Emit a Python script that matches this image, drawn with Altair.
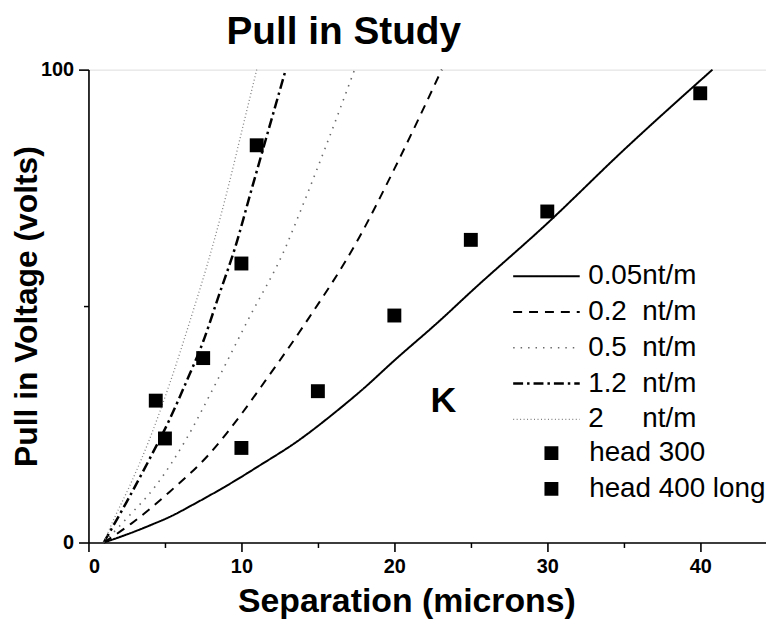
import altair as alt
import pandas as pd

FONT = "Liberation Sans"

# ---- curve series ----
line_names = [
    "0.05nt/m",
    "0.2\u00a0\u00a0nt/m",
    "0.5\u00a0\u00a0nt/m",
    "1.2\u00a0\u00a0nt/m",
    "2\u00a0\u00a0\u00a0\u00a0\u00a0nt/m",
]

x_005 = [1, 2, 3, 4, 5.3, 7, 9.5, 11.1, 13.7, 16, 18, 20, 23, 25, 30, 35, 40.8]
y_005 = [0, 1.1, 2.3, 3.6, 5.4, 8.3, 12.9, 16.1, 21.5, 27.2, 32.6, 38.5, 47, 53, 67.5, 83, 100]

x_02 = [1, 2.8, 5.3, 7.9, 10.1, 11.3, 14, 17.7, 20, 23.1]
y_02 = [0, 4, 10.7, 18.7, 27.6, 33, 45.5, 64.5, 79, 100]

x_05 = [1, 2.5, 4.4, 6.4, 8.3, 10.5, 12.9, 13.7, 15.5, 17.4]
y_05 = [0, 5.1, 12, 21.9, 33.5, 47.5, 62.5, 68.8, 83.6, 100]

x_12 = [1, 2.5, 4.0, 5.3, 6.4, 7.5, 8.5, 9.6, 10.65, 11.75, 12.9]
y_12 = [0, 8.6, 17.7, 26, 34, 42.5, 52, 62.5, 74.5, 87, 100]

x_2 = [1, 1.6, 2.7, 4.0, 5.3, 6.7, 8.1, 9.2, 10.1, 11.0]
y_2 = [0, 4.5, 12, 21.9, 33.5, 47.5, 62.5, 76, 88, 100]

# ---- measured points ----
point_names = ["head 300", "head 400 long"]
head300_x = [5, 10, 15, 20, 25, 30, 40]
head300_y = [22, 20, 32, 48, 64, 70, 95]
head400_x = [4.4, 7.5, 10, 11]
head400_y = [30, 39, 59, 84]

annot_x = [23.2]
annot_y = [30]
annot_text = ["K"]

# ---- styles ----
line_colors = ["#000000", "#000000", "#6a6a6a", "#000000", "#808080"]
line_dashes = [[1, 0], [9, 7], [1.5, 6], [10, 4, 2.5, 4], [1, 2.5]]
line_widths = [2, 2, 1.6, 2.5, 1.3]

rows = []
for name, xs, ys in zip(line_names, [x_005, x_02, x_05, x_12, x_2],
                        [y_005, y_02, y_05, y_12, y_2]):
    for a, b in zip(xs, ys):
        rows.append({"series": name, "x": a, "y": b})
df_lines = pd.DataFrame(rows)

prow = []
for name, xs, ys in zip(point_names, [head300_x, head400_x], [head300_y, head400_y]):
    for a, b in zip(xs, ys):
        prow.append({"series": name, "x": a, "y": b})
df_pts = pd.DataFrame(prow)

df_annot = pd.DataFrame({"x": annot_x, "y": annot_y, "label": annot_text})

xscale = alt.Scale(domain=[0, 44.3], nice=False, zero=False)
yscale = alt.Scale(domain=[0, 100], nice=False)

axis_common = dict(
    grid=False, domainColor="black", domainWidth=1.6, tickColor="black",
    tickWidth=1.6, labelFont=FONT, labelFontSize=20, labelFontWeight="bold",
    labelColor="black", titleFont=FONT, titleFontWeight="bold", titleColor="black",
)

x_major = alt.Axis(values=[0, 10, 20, 30, 40], tickSize=9, labelPadding=5,
                   title="Separation (microns)", titleFontSize=34, titlePadding=8,
                   titleX=320, orient="bottom", **axis_common)
y_major = alt.Axis(values=[0, 100], tickSize=10, labelPadding=5,
                   title="Pull in Voltage (volts)", titleFontSize=32,
                   titleX=-62, titleBaseline="middle",
                   orient="left", **axis_common)
x_minor = alt.Axis(values=[5, 15, 25, 35], tickSize=5, labels=False, domain=False,
                   title=None, orient="bottom", grid=False, tickColor="black", tickWidth=1.5)
y_minor = alt.Axis(values=[50], tickSize=5, labels=False, domain=False,
                   title=None, orient="left", grid=False, tickColor="black", tickWidth=1.5)

line_legend = alt.Legend(
    title=None, orient="none", legendX=426, legendY=197, symbolType="stroke",
    symbolSize=4489, clipHeight=22, labelOffset=7, labelFont=FONT,
    labelFontSize=28, labelColor="black", rowPadding=8, padding=0, labelLimit=400,
)

lines = alt.Chart(df_lines).mark_line(interpolate="monotone").encode(
    x=alt.X("x:Q", scale=xscale, axis=x_major),
    y=alt.Y("y:Q", scale=yscale, axis=y_major),
    color=alt.Color("series:N", scale=alt.Scale(domain=line_names, range=line_colors),
                    legend=line_legend),
    strokeDash=alt.StrokeDash("series:N", scale=alt.Scale(domain=line_names, range=line_dashes),
                              legend=line_legend),
    strokeWidth=alt.StrokeWidth("series:N",
                                scale=alt.Scale(type="ordinal", domain=line_names, range=line_widths),
                                legend=line_legend),
)

pts = alt.Chart(df_pts).mark_point(filled=True, size=196, opacity=1, color="black",
                                   strokeWidth=0).encode(
    x=alt.X("x:Q", scale=xscale, axis=x_minor),
    y=alt.Y("y:Q", scale=yscale, axis=y_minor),
    shape=alt.Shape("series:N", scale=alt.Scale(domain=point_names, range=["square", "square"]),
                    legend=alt.Legend(
                        title=None, orient="none", legendX=452, legendY=375,
                        symbolType="square", symbolSize=196, symbolFillColor="black",
                        symbolStrokeColor="black", symbolStrokeWidth=0, clipHeight=22,
                        labelOffset=24, labelFont=FONT, labelFontSize=28,
                        labelColor="black", rowPadding=8, padding=0, labelLimit=400)),
)

annot = alt.Chart(df_annot).mark_text(fontSize=36, fontWeight="bold", font=FONT,
                                      color="black").encode(
    x=alt.X("x:Q", scale=xscale, axis=None),
    y=alt.Y("y:Q", scale=yscale, axis=None),
    text="label:N",
)

chart = alt.layer(lines, pts, annot).resolve_axis(x="independent", y="independent").properties(
    width=682, height=476,
    autosize=alt.AutoSizeParams(type="none"),
    padding={"left": 81, "top": 60, "right": 0, "bottom": 80},
    title=alt.Title("Pull in Study", fontSize=39, fontWeight="bold", font=FONT,
                    color="black", anchor="middle", dx=-84, offset=8),
).configure_view(stroke=None).configure(font=FONT).configure_axis(
    labelFontSize=20, labelFontWeight="bold", labelFont=FONT, labelColor="black"
)

chart.save("out.html", embed_options={"renderer": "svg", "actions": False})
